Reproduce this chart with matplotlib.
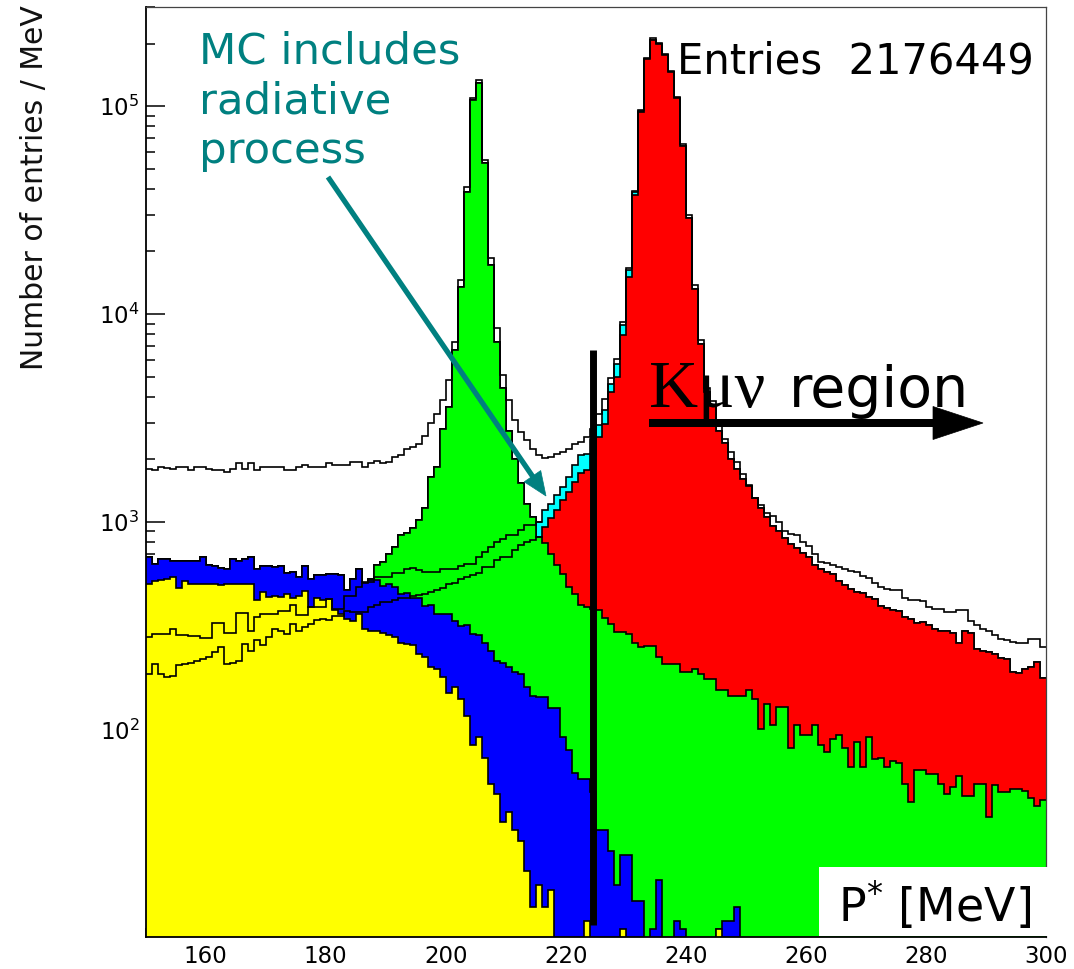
import numpy as np
import matplotlib
matplotlib.use("Agg")
import matplotlib.pyplot as plt
from matplotlib.patches import Polygon, Rectangle
from matplotlib.lines import Line2D
from matplotlib.ticker import LogLocator, LogFormatterMathtext, MultipleLocator, NullFormatter

plt.rcParams['font.family'] = ['DejaVu Sans']

# ---------------- data (1 MeV bins, 150..300 MeV) ----------------
bin_edges = np.arange(150, 301, 1)

# cumulative stack levels (entries / MeV)
yellow_start = 150
yellow_top = [505, 520, 525, 530, 540, 480, 520, 500, 505, 500,
              505, 500, 498, 500, 502, 500, 505, 505, 420, 460,
              435, 440, 435, 450, 430, 440, 465, 390, 430, 420,
              425, 375, 360, 340, 335, 360, 305, 300, 300, 292,
              285, 280, 262, 258, 255, 232, 225, 200, 195, 180,
              150, 160, 140, 117, 84, 92, 73, 55, 49, 36,
              40, 33, 29, 21, 14, 18, 14, 17, 0, 0,
              0, 0, 0, 12, 0, 0, 0, 0, 0, 11,
              0, 0, 0, 0, 0, 0, 0, 0, 0, 0,
              0, 0, 0, 0, 0, 11]

blue_start = 150
blue_top = [680, 630, 665, 665, 650, 650, 650, 645, 645, 680,
            620, 610, 600, 590, 660, 650, 660, 680, 590, 612,
            610, 608, 612, 570, 575, 545, 610, 530, 555, 555,
            560, 562, 558, 470, 530, 595, 510, 525, 525, 490,
            500, 485, 450, 455, 430, 430, 395, 400, 360, 360,
            360, 335, 315, 318, 290, 285, 260, 240, 215, 210,
            200, 190, 185, 160, 145, 143, 143, 127, 127, 92,
            80, 62, 58, 58, 50, 33, 33, 26, 18, 25,
            25, 15, 15, 0, 11, 19, 0, 0, 12, 11,
            0, 0, 0, 0, 0, 0, 12, 12, 14]

green_start = 186
green_top = [510, 530, 620, 640,
             700, 760, 860, 880, 930, 1020, 1160, 1640, 1840, 2800,
             3560, 6700, 13500, 38800, 107000, 129000, 53000, 17200, 7300, 4400,
             2750, 2000, 1530, 1220, 1050, 846, 790, 700, 620, 560,
             486, 452, 400, 389, 380, 375, 345, 324, 295, 295,
             290, 260, 250, 254, 254, 224, 208, 208, 208, 189,
             189, 196, 185, 176, 176, 155, 155, 146, 146, 146,
             155, 141, 101, 133, 105, 128, 128, 82, 105, 94,
             94, 105, 84, 78, 90, 94, 82, 66, 87, 66,
             92, 72, 73, 66, 71, 69, 55, 45, 64, 64,
             61, 61, 55, 49, 53, 60, 48, 48, 55, 55,
             38, 54, 50, 50, 52, 52, 51, 47, 43, 46]

red_start = 216
red_top = [946, 1040, 1140, 1270,
           1390, 1560, 1710, 1770, 2100, 2560, 2970, 4200, 5000, 7900,
           15100, 37300, 94000, 169000, 209000, 199000, 176000, 146000, 109000, 64000,
           29000, 13200, 7200, 4200, 3600, 2750, 2400, 2000, 1800, 1600,
           1480, 1300, 1160, 1050, 960, 900, 840, 780, 750, 710,
           680, 620, 590, 575, 560, 520, 495, 475, 462, 455,
           435, 425, 395, 385, 378, 372, 350, 340, 325, 330,
           318, 305, 300, 298, 292, 262, 300, 292, 245, 240,
           236, 232, 222, 218, 190, 188, 196, 200, 212, 178]

cyan_start = 215
cyan_top = [1000, 1140, 1220, 1340, 1470, 1640, 1870, 2090, 2130, 2500,
            2920, 3440, 4630, 5780, 8850, 16300, 38700, 95000]

# unfilled outline histograms
total_line = [1800, 1770, 1840, 1820, 1800, 1840, 1840, 1770, 1840, 1840,
              1800, 1770, 1770, 1740, 1800, 1910, 1800, 1910, 1770, 1840,
              1840, 1840, 1840, 1780, 1780, 1840, 1870, 1840, 1840, 1840,
              1910, 1870, 1870, 1870, 1940, 1940, 1840, 1910, 1960, 1910,
              1940, 2050, 2100, 2250, 2300, 2370, 2600, 3000, 3300, 3850,
              4800, 7300, 14600, 40700, 110000, 133000, 55000, 18500, 8600, 5100,
              3850, 3080, 2710, 2470, 2250, 2090, 2020, 2050, 2120, 2170,
              2250, 2360, 2430, 2560, 2800, 3300, 3900, 4900, 6100, 9200,
              16600, 39000, 96000, 171000, 212000, 201000, 178000, 148000, 111000, 66000,
              30000, 13800, 7500, 4400, 3800, 2950, 2500, 2160, 1950, 1700,
              1500, 1300, 1200, 1100, 1063, 1000, 900, 873, 860, 800,
              762, 700, 640, 634, 620, 605, 596, 580, 574, 550,
              539, 510, 485, 477, 470, 468, 430, 423, 420, 418,
              390, 382, 380, 370, 368, 375, 375, 335, 318, 305,
              300, 285, 274, 270, 265, 261, 262, 274, 274, 250]

lines_start = 150
line_a = [279, 290, 290, 290, 305, 287, 287, 281, 281, 275,
          275, 326, 326, 292, 292, 363, 363, 300, 348, 360,
          360, 360, 373, 373, 398, 358, 358, 390, 390, 390,
          427, 382, 382, 441, 441, 486, 514, 514, 543, 543,
          543, 570, 570, 590, 600, 585, 575, 574, 574, 596,
          596, 596, 610, 630, 630, 678, 716, 757, 800, 831,
          862, 862, 911, 963, 963, 1000]
line_b = [185, 208, 185, 180, 182, 205, 208, 210, 215, 220,
          224, 237, 250, 208, 210, 215, 259, 240, 269, 255,
          279, 305, 300, 290, 324, 300, 312, 324, 336, 342,
          336, 354, 354, 373, 367, 367, 367, 390, 400, 410,
          410, 420, 430, 430, 440, 445, 450, 460, 470, 480,
          500, 510, 530, 540, 553, 570, 607, 607, 653, 678,
          678, 730, 771, 800, 815, 846]

cut_position = 224.6
entries_text = "Entries  2176449"

# ---------------- build full stacked levels ----------------
nb = len(bin_edges) - 1


def place(values, start, base=None):
    arr = np.zeros(nb) if base is None else np.array(base, dtype=float)
    i0 = start - int(bin_edges[0])
    v = np.asarray(values, dtype=float)[: nb - i0]
    arr[i0:i0 + len(v)] = v
    return arr


lev_yellow = place(yellow_top, yellow_start)
lev_blue = np.maximum(place(blue_top, blue_start), lev_yellow)
lev_green = np.maximum(place(green_top, green_start, lev_blue), lev_blue)
lev_red = np.maximum(place(red_top, red_start, lev_green), lev_green)
lev_cyan = np.maximum(place(cyan_top, cyan_start, lev_red), lev_red)

FLOOR = 0.5

W, H = 1074, 969
fig = plt.figure(figsize=(W / 100, H / 100), dpi=100)
fig.patch.set_facecolor('white')

ax_l, ax_r, ax_t, ax_b = 145.7, 1045.7, 7, 937.3
ax = fig.add_axes([ax_l / W, 1 - ax_b / H, (ax_r - ax_l) / W, (ax_b - ax_t) / H])
ax.set_yscale('log')
ax.set_xlim(150, 300)
ax.set_ylim(10.03, 3.0e5)

layers = [(lev_cyan, '#00ffff'), (lev_red, '#ff0000'), (lev_green, '#00ff00'),
          (lev_blue, '#0000ff'), (lev_yellow, '#ffff00')]
z = 1
for lev, col in layers:
    vals = np.maximum(lev, FLOOR)
    ax.stairs(vals, bin_edges, baseline=FLOOR, fill=True, facecolor=col,
              edgecolor='none', zorder=z)
    ax.stairs(vals, bin_edges, baseline=None, color='black', lw=1.2, zorder=z + 0.5)
    z += 1

ax.stairs(np.asarray(total_line, float), bin_edges, baseline=None, color='black', lw=1.2, zorder=8)
la_edges = bin_edges[lines_start - 150: lines_start - 150 + len(line_a) + 1]
ax.stairs(np.asarray(line_a, float), la_edges, baseline=None, color='black', lw=1.2, zorder=8)
ax.stairs(np.asarray(line_b, float), la_edges, baseline=None, color='black', lw=1.2, zorder=8)

# cut line
ax.axvline(cut_position, ymin=(ax_b - 925) / (ax_b - ax_t), ymax=(ax_b - 350) / (ax_b - ax_t),
           color='black', lw=5, zorder=12, solid_capstyle='butt')

# ticks / spines (ROOT style)
ax.xaxis.set_major_locator(MultipleLocator(20))
ax.xaxis.set_minor_locator(MultipleLocator(5))
ax.yaxis.set_major_locator(LogLocator(base=10, numticks=10))
ax.yaxis.set_minor_locator(LogLocator(base=10, subs=np.arange(2, 10), numticks=20))
ax.yaxis.set_major_formatter(LogFormatterMathtext())
ax.yaxis.set_minor_formatter(NullFormatter())
ax.tick_params(axis='both', which='both', direction='in', top=False, right=False, width=1.1,
               color='black')
ax.tick_params(axis='both', which='major', length=13.5, labelsize=16.5)
ax.tick_params(axis='both', which='minor', length=6.5)
ax.tick_params(axis='x', which='major', pad=5.5)
ax.tick_params(axis='y', which='major', pad=4.4)
for s in ['left', 'bottom']:
    ax.spines[s].set_linewidth(1.3)
    ax.spines[s].set_color('black')
for s in ['top', 'right']:
    ax.spines[s].set_linewidth(0.9)
    ax.spines[s].set_color('#444444')
for s in ax.spines.values():
    s.set_zorder(20)


def fx(x):
    return x / W


def fy(y):
    return 1 - y / H


# y-axis title
fig.text(fx(35), fy(5), 'Number of entries / MeV', rotation=90, ha='center', va='top',
         fontsize=21.5, color='#111111')

# teal annotation
teal = '#008080'
for txt, yb in [('MC includes', 64), ('radiative', 113), ('process', 163)]:
    fig.text(fx(199), fy(yb), txt, ha='left', va='baseline', fontsize=31.2, color=teal)

x0, y0, x1, y1 = 328, 177, 546, 496
d = np.array([x1 - x0, y1 - y0], float)
u = d / np.hypot(*d)
nrm = np.array([-u[1], u[0]])
hl, hw = 24, 10
base = np.array([x1, y1]) - hl * u
fig.add_artist(Line2D([fx(x0), fx(base[0] + 2 * u[0])], [fy(y0), fy(base[1] + 2 * u[1])],
                      color=teal, lw=3.8, solid_capstyle='butt', zorder=30))
tri = [base + hw * nrm, np.array([x1, y1]), base - hw * nrm]
fig.add_artist(Polygon([(fx(p[0]), fy(p[1])) for p in tri], closed=True, facecolor=teal,
                       edgecolor=teal, lw=0.5, zorder=30))

# entries text
fig.text(fx(1034), fy(74), entries_text, ha='right', va='baseline', fontsize=30, color='black')

# K mu nu region
fig.text(fx(649), fy(407), 'K\u03bc\u03bd', ha='left', va='baseline', fontsize=49,
         family=['Liberation Serif', 'DejaVu Serif'], color='black', zorder=31)
fig.text(fx(789), fy(407), 'region', ha='left', va='baseline', fontsize=41, color='black', zorder=31)
fig.add_artist(Rectangle((fx(649), fy(427)), fx(935) - fx(649), fy(419) - fy(427),
                         facecolor='black', edgecolor='none', zorder=30))
fig.add_artist(Polygon([(fx(933), fy(406.5)), (fx(983), fy(423)), (fx(933), fy(439.5))],
                       closed=True, facecolor='black', edgecolor='black', lw=0.5, zorder=30))

# axis title box
fig.add_artist(Rectangle((fx(819), fy(936)), fx(1050) - fx(819), fy(867) - fy(936),
                         facecolor='white', edgecolor='none', zorder=25))
fig.text(fx(838), fy(922), 'P$^{*}$ [MeV]', ha='left', va='baseline', fontsize=33,
         color='black', zorder=32)

fig.savefig('out.png', dpi=100, facecolor='white')
